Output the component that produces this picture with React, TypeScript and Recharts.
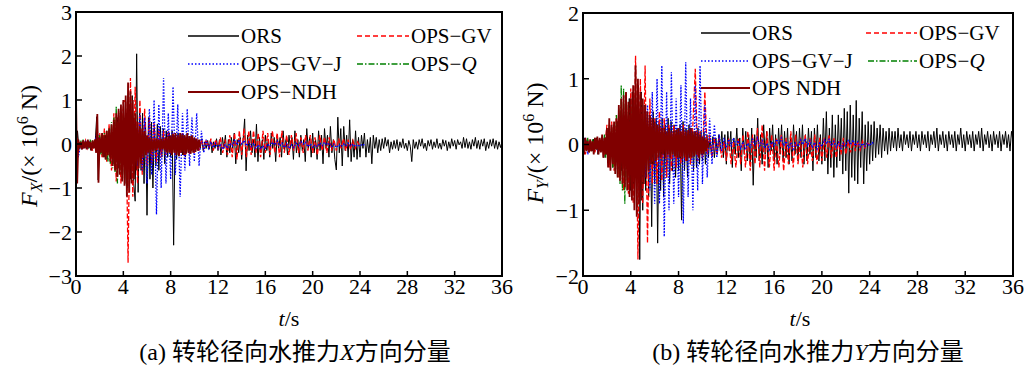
import { LineChart, Line, XAxis, YAxis } from "recharts";

// time axis ticks (s) and force ticks (x10^6 N)
const timeTicks = [0, 4, 8, 12, 16, 20, 24, 28, 32, 36];
const fxTicks = [-3, -2, -1, 0, 1, 2, 3];
const fyTicks = [-2, -1, 0, 1, 2];

// sample spacing (s) of each hand-read series
const orsStep = 0.125;
const gvStep = 0.2;
const gvjStep = 0.2;
const qStep = 0.1;
const ndhStep = 0.1;

// (a) X component, one row per second for ORS
const fxOrs = [
  -0.85, 0.3, -0.1, 0.05, -0.12, 0.02, -0.08, 0.04,
  -0.1, 0.05, -0.14, 0.02, -0.06, 0.05, 0.62, -0.82,
  0.15, -0.2, 0.25, -0.3, 0.2, -0.35, 0.3, -0.28,
  0.4, -0.45, 0.5, -0.4, 0.6, -0.55, 0.7, -0.6,
  0.8, -0.9, 0.7, -1.0, 0.9, -0.8, 1.1, -0.9,
  -1.3, 2.05, -1.1, 0.8, -0.6, 0.7, -0.9, 0.5,
  -1.62, 0.6, -0.8, 0.5, -1.0, 0.4, -0.5, 0.45,
  -0.6, 0.4, -0.3, 0.35, -0.45, 0.3, -0.3, 0.25,
  -0.3, 0.3, -2.3, 0.2, -0.35, 0.25, -0.2, 0.2,
  -0.25, 0.2, -0.3, 0.15, -0.2, 0.18, -0.15, 0.12,
  -0.15, 0.1, -0.12, 0.08, -0.1, 0.12, -0.15, 0.05,
  -0.1, 0.08, -0.12, 0.1, -0.2, 0.05, -0.1, 0.12,
  -0.15, 0.1, -0.25, 0.15, -0.1, 0.2, -0.3, 0.1,
  -0.2, 0.15, -0.1, 0.25, -0.45, 0.1, -0.2, 0.15,
  -0.35, 0.1, 0.57, -0.61, 0.2, -0.15, 0.3, -0.2,
  0.1, -0.3, 0.45, -0.4, 0.15, -0.2, 0.1, -0.35,
  0.2, -0.15, 0.1, -0.3, 0.25, -0.1, 0.15, -0.4,
  0.2, -0.1, 0.15, -0.3, 0.3, -0.15, 0.1, -0.25,
  0.2, -0.1, 0.15, -0.35, 0.3, -0.2, 0.1, -0.3,
  0.2, -0.15, 0.1, -0.4, 0.35, -0.1, 0.15, -0.3,
  0.25, -0.2, 0.1, -0.35, 0.3, -0.15, 0.2, -0.45,
  0.35, -0.1, 0.2, -0.3, 0.4, -0.2, 0.1, -0.35,
  -0.59, 0.61, -0.2, 0.35, -0.5, 0.4, -0.15, 0.2,
  -0.3, 0.55, -0.4, 0.1, -0.3, 0.3, -0.35, 0.15,
  -0.3, 0.2, -0.1, 0.25, -0.3, 0.1, -0.2, 0.15,
  -0.45, 0.2, -0.1, 0.15, -0.2, 0.1, -0.15, 0.12,
  -0.1, 0.15, -0.05, 0.1, -0.2, 0.05, -0.12, 0.08,
  -0.1, 0.1, -0.15, 0.05, -0.08, 0.12, -0.1, 0.02,
  -0.15, 0.08, -0.05, -0.4, 0.1, -0.1, 0.05, -0.12,
  0.1, -0.05, 0.12, -0.1, 0.02, -0.15, 0.08, -0.05,
  0.1, -0.12, 0.05, -0.08, 0.12, -0.1, 0.02, -0.12,
  0.1, -0.05, 0.08, -0.15, 0.05, -0.1, 0.12, -0.05,
  0.08, -0.12, 0.1, -0.02, 0.05, -0.1, 0.15, -0.08,
  0.12, -0.1, 0.05, -0.12, 0.1, -0.05, 0.15, -0.1,
  0.08, -0.12, 0.1, -0.05, 0.12, -0.15, 0.05, -0.1,
  0.1, -0.05, 0.12, -0.1, 0.08, -0.12, 0.05, -0.08,
  0.05,
];
const fxGv = [
  0.3, -0.2, 0.05, -0.12, 0.08, -0.1, 0.05, -0.15, 0.1, -0.2,
  0.25, -0.3, 0.35, -0.4, 0.45, -0.6, 0.7, -0.85, 0.75, -0.9,
  0.95, 1.0, -2.7, 1.5, -1.2, 1.3, -0.9, 1.0, -0.7, 0.8,
  -0.5, 0.6, -0.45, 0.5, -0.4, 0.35, -0.3, 0.3, -0.25, 0.3,
  -0.2, 0.25, -0.25, 0.2, -0.2, 0.25, -0.3, 0.2, -0.25, 0.15,
  -0.2, 0.12, -0.15, 0.1, -0.12, 0.1, -0.1, 0.12, -0.15, 0.1,
  -0.12, 0.15, -0.2, 0.1, -0.25, 0.2, -0.3, 0.25, -0.35, 0.3,
  -0.25, 0.35, -0.3, 0.3, -0.25, 0.3, -0.2, 0.25, -0.3, 0.3,
  -0.2, 0.25, -0.25, 0.3, -0.2, 0.25, -0.3, 0.3, -0.2, 0.2,
  -0.25, 0.2, -0.15, 0.25, -0.2, 0.15, -0.2, 0.2, -0.15, 0.2,
  -0.2, 0.15, -0.25, 0.2, -0.15, 0.15, -0.2, 0.15, -0.15, 0.1,
  -0.15, 0.12, -0.1, 0.12, -0.15, 0.1, -0.12, 0.08, -0.1, 0.05,
  -0.05,
];
const fxGvj = [
  0.2, -0.3, 0.05, -0.1, 0.05, -0.08, 0.05, -0.1, 0.05, 0.3,
  -0.15, 0.1, -0.1, 0.08, -0.12, 0.1, -0.15, 0.12, -0.2, 0.15,
  -0.25, 0.2, -0.3, 0.3, -0.35, 0.5, -0.5, 0.7, -0.6, 0.6,
  -0.9, 0.8, -0.7, 1.0, -1.6, 0.9, -1.0, 1.5, -0.9, 0.7,
  -0.8, 1.3, -0.7, 0.9, -1.2, 0.7, -0.6, 0.8, -0.5, 0.6,
  -0.4, 0.7, -0.5, 0.3, -0.2, 0.1, -0.1, 0.05, -0.08, 0.02,
  -0.1, 0, -0.12, -0.02, -0.1, 0.02, -0.05, 0.08, -0.02, 0.1,
  0, 0.08, -0.04, 0.05, -0.06, 0.02, -0.1, -0.02, -0.12, -0.04,
  -0.1, 0, -0.06, 0.04, -0.02, 0.06, -0.04, 0.02, -0.08, 0,
  -0.1, -0.02, -0.08, 0.02, -0.04, 0.06, 0, 0.04, -0.06, 0,
  -0.08, -0.02, -0.06, 0.02, -0.04, 0.04, -0.02, 0.02, -0.06, 0,
  -0.08, -0.02, -0.06, 0, -0.04, 0.02, -0.05, 0, -0.06, -0.02,
  -0.05, 0, -0.03,
];
const fxQ = [
  0.1, -0.15, 0.05, -0.1, 0.08, -0.05, 0.1, -0.08, 0.05, -0.1,
  0.08, -0.1, 0.1, -0.05, 0.08, -0.1, 0.05, -0.12, 0.1, -0.15,
  0.2, -0.25, 0.2, -0.3, 0.25, -0.35, 0.3, -0.4, 0.35, -0.45,
  0.5, -0.55, 0.6, -0.65, 0.85, -0.9, 0.7, -0.6, 0.75, -0.7,
  0.65, -0.8, 0.6, -0.55, 0.5, -0.6, 0.45, -0.4, 0.5, -0.35,
  0.3, -0.35, 0.25, -0.3, 0.2, -0.2, 0.15, -0.12, 0.1, -0.08,
  0.05,
];
const fxNdh = [
  1.15, -0.9, 0.1, -0.1, 0.05, -0.12, 0.08, -0.1, 0.06, -0.12,
  0.1, -0.08, 0.05, -0.15, 0.08, -0.1, 0.1, -0.2, 0.68, -0.88,
  0.15, -0.2, 0.25, -0.3, 0.2, -0.35, 0.3, -0.25, 0.35, -0.4,
  0.45, -0.5, 0.55, -0.6, 0.7, -0.75, 0.8, -0.7, 0.9, -0.85,
  1.0, -0.95, 1.1, -1.2, 1.4, -1.1, 1.2, -0.9, 1.0, -0.8,
  0.7, -0.6, 0.5, -0.55, 0.4, -0.45, 0.35, -0.3, 0.3, -0.25,
  0.2, -0.2, 0.15, -0.2, 0.12, -0.15, 0.1, -0.15, 0.12, -0.1,
  0.1, -0.15, 0.12, -0.12, 0.1, -0.15, 0.15, -0.2, 0.18, -0.2,
  0.2, -0.25, 0.22, -0.2, 0.25, -0.25, 0.2, -0.28, 0.25, -0.2,
  0.22, -0.25, 0.2, -0.22, 0.25, -0.2, 0.18, -0.22, 0.2, -0.2,
  0.15, -0.18, 0.12, -0.15, 0.1, -0.08,
];

// (b) Y component, one row per second for ORS
const fyOrs = [
  -0.1, 0.1, -0.05, 0.08, -0.12, 0.05, -0.1, 0.08,
  -0.05, 0.1, -0.15, 0.05, -0.1, 0.12, -0.2, 0.1,
  -0.15, 0.25, -0.3, 0.2, -0.35, 0.3, -0.25, 0.35,
  -0.45, 0.5, -0.4, 0.55, -0.6, 0.65, -0.5, 0.7,
  -0.7, 0.8, -0.6, 0.75, -0.9, 0.9, -1.75, 0.8,
  -1.0, 0.6, -0.7, 0.5, -0.8, 0.4, -1.25, 0.5,
  -0.6, 0.4, -1.5, 0.35, -0.7, 0.4, -0.8, 0.3,
  -0.5, 0.4, -0.6, 0.35, -0.4, 0.3, -0.5, 0.25,
  -0.4, 0.3, -1.15, 0.35, -0.4, 0.25, -0.5, 0.3,
  -0.3, 0.25, -0.4, 0.2, -0.35, 0.25, -0.3, 0.2,
  -0.25, 0.2, -0.3, 0.15, -0.2, 0.1, -0.15, 0.12,
  -0.2, 0.1, -0.15, 0.15, -0.1, 0.2, -0.2, 0.15,
  -0.3, 0.2, -0.1, 0.2, -0.35, 0.1, -0.15, 0.25,
  -0.2, 0.1, -0.4, 0.25, -0.15, 0.2, -0.25, 0.15,
  -0.3, 0.25, -0.62, 0.15, -0.2, 0.4, -0.25, 0.15,
  -0.3, 0.3, -0.15, 0.2, -0.35, 0.25, -0.1, 0.3,
  -0.25, 0.15, -0.3, 0.25, -0.15, 0.3, -0.25, 0.2,
  -0.2, 0.25, -0.3, 0.15, -0.25, 0.3, -0.15, 0.2,
  -0.25, 0.25, -0.2, 0.3, -0.3, 0.15, -0.25, 0.25,
  -0.15, 0.2, -0.4, 0.25, -0.2, 0.3, -0.25, 0.15,
  -0.3, 0.4, -0.25, 0.5, -0.45, 0.25, -0.35, 0.45,
  -0.5, 0.3, -0.35, 0.45, -0.25, 0.4, -0.45, 0.55,
  -0.4, 0.5, -0.74, 0.6, -0.5, 0.45, -0.55, 0.67,
  -0.6, 0.4, -0.35, 0.5, -0.6, 0.3, -0.4, 0.35,
  -0.3, 0.3, -0.25, 0.35, -0.2, 0.25, -0.15, 0.3,
  -0.2, 0.25, -0.1, 0.2, -0.15, 0.25, -0.1, 0.2,
  -0.05, 0.2, -0.1, 0.25, -0.05, 0.15, -0.1, 0.2,
  0, 0.15, -0.05, 0.2, -0.1, 0.15, 0, 0.2,
  -0.05, 0.15, -0.1, 0.2, 0, 0.15, -0.05, 0.2,
  -0.1, 0.15, 0, 0.2, -0.05, 0.25, -0.1, 0.15,
  0, 0.2, -0.05, 0.15, -0.1, 0.2, 0, 0.15,
  -0.05, 0.2, -0.1, 0.15, 0, 0.25, -0.05, 0.15,
  -0.1, 0.2, 0, 0.15, -0.05, 0.2, -0.1, 0.15,
  0, 0.2, -0.05, 0.25, -0.1, 0.15, 0, 0.2,
  -0.05, 0.15, -0.1, 0.2, 0, 0.15, -0.05, 0.2,
  -0.1, 0.15, 0, 0.2, -0.05, 0.15, -0.1, 0.2,
  0.05,
];
const fyGv = [
  0.1, -0.15, 0.08, -0.1, 0.05, -0.12, 0.08, -0.1, 0.1, -0.15,
  0.3, -0.35, 0.35, -0.4, 0.45, -0.5, 0.6, -0.7, 0.8, -0.75,
  0.85, -0.9, 1.35, -1.75, 1.0, -0.9, 1.2, -1.5, 0.7, -0.6,
  0.4, -0.6, 0.5, -0.55, 0.4, -0.5, 0.3, -0.4, 0.3, -0.35,
  0.25, -0.3, 0.3, -0.25, 0.2, -0.3, 0.3, 1.15, -0.25, 0.2,
  -0.2, 0.8, -0.15, 0.15, -0.2, 0.1, -0.15, 0.1, -0.2, 0.05,
  -0.25, 0.1, -0.3, 0.05, -0.35, 0.1, -0.3, 0.15, -0.35, 0.2,
  -0.4, 0.15, -0.3, 0.25, -0.35, 0.3, -0.4, 0.2, -0.35, 0.15,
  -0.4, 0.1, -0.35, 0.15, -0.4, 0.1, -0.3, 0.2, -0.35, 0.15,
  -0.3, 0.1, -0.35, 0.15, -0.3, 0.1, -0.25, 0.15, -0.3, 0.1,
  -0.25, 0.1, -0.2, 0.15, -0.2, 0.1, -0.2, 0.05, -0.15, 0.1,
  -0.15, 0.05, -0.12, 0.05, -0.1, 0.05, -0.08, 0.05, -0.05, 0.02,
  0,
];
const fyGvj = [
  -0.1, 0.1, -0.15, 0.05, -0.1, 0.05, -0.08, 0.05, -0.1, 0.08,
  -0.1, 0.1, -0.12, 0.1, -0.15, 0.12, -0.15, 0.1, -0.2, 0.15,
  -0.2, 0.2, -0.25, 0.25, -0.3, 0.35, -0.5, 0.6, -0.7, 0.8,
  -0.9, 1.0, -0.9, 1.2, -1.4, 0.8, -1.0, 1.1, -0.9, 0.7,
  -0.8, 0.9, -1.2, 1.25, -0.8, 0.7, -1.0, 0.9, -0.7, 1.2,
  -0.6, 0.6, -0.5, 0.4, -0.3, 0.3, -0.2, 0.15, -0.1, 0.1,
  -0.05, 0.08, -0.02, 0.1, 0, 0.06, -0.06, 0.04, -0.08, 0.02,
  -0.04, 0.08, 0, 0.1, -0.02, 0.06, -0.06, 0.02, -0.08, 0.04,
  -0.02, 0.08, 0.02, 0.1, -0.02, 0.05, -0.05, 0.03, -0.07, 0.02,
  -0.03, 0.07, 0, 0.09, -0.02, 0.06, -0.05, 0.03, -0.07, 0.02,
  -0.03, 0.07, 0.01, 0.08, -0.02, 0.05, -0.04, 0.03, -0.06, 0.02,
  -0.02, 0.06, 0, 0.07, -0.02, 0.04, -0.04, 0.02, -0.03, 0.02,
  -0.02, 0.03, 0,
];
const fyQ = [
  0.05, -0.1, 0.08, -0.05, 0.1, -0.08, 0.05, -0.1, 0.08, -0.05,
  0.1, -0.08, 0.05, -0.1, 0.08, -0.12, 0.1, -0.1, 0.15, -0.2,
  0.2, -0.25, 0.3, -0.3, 0.25, -0.35, 0.3, -0.4, 0.45, -0.5,
  0.55, -0.6, 0.9, -0.7, 0.85, -0.9, 0.6, -0.55, 0.6, -0.65,
  0.55, -0.6, 0.5, -0.55, 0.45, -0.5, 0.4, -0.45, 0.5, -0.6,
  0.4, -0.45, 0.3, -0.3, 0.2, -0.25, 0.15, -0.12, 0.1, -0.08,
  0.05,
];
const fyNdh = [
  0.05, -0.15, 0.1, -0.1, 0.05, -0.12, 0.08, -0.1, 0.05, -0.15,
  0.1, -0.08, 0.12, -0.15, 0.1, -0.12, 0.15, -0.2, 0.1, -0.15,
  0.25, -0.35, 0.4, -0.4, 0.3, -0.3, 0.35, -0.45, 0.4, -0.5,
  0.6, -0.55, 0.7, -0.6, 0.75, -0.65, 0.8, -0.7, 0.65, -0.8,
  0.7, -0.85, 0.9, -1.0, 1.2, -1.1, 1.0, -0.9, 0.8, -0.85,
  0.7, -0.6, 0.6, -0.5, 0.5, -0.4, 0.45, -0.3, 0.4, -0.3,
  0.35, -0.25, 0.3, -0.2, 0.3, -0.2, 0.25, -0.15, 0.25, -0.2,
  0.2, -0.15, 0.25, -0.2, 0.2, -0.15, 0.2, -0.18, 0.22, -0.2,
  0.25, -0.2, 0.2, -0.22, 0.25, -0.2, 0.2, -0.25, 0.22, -0.2,
  0.25, -0.2, 0.2, -0.18, 0.2, -0.15, 0.18, -0.2, 0.15, -0.15,
  0.12, -0.15, 0.1, -0.1, 0.08, -0.05,
];

const FONT = '"Liberation Serif", "Times New Roman", serif';
const CJK = '"Liberation Serif", "Noto Sans CJK SC", serif';

const toPoints = (vals: number[], step: number) =>
  vals.map((v, i) => ({ t: Math.round(i * step * 1000) / 1000, v }));

const minus = (v: number) => (v < 0 ? `\u2212${-v}` : `${v}`);

type SeriesSet = { ors: number[]; gv: number[]; gvj: number[]; q: number[]; ndh: number[] };

function ForcePanel(props: {
  left: number;
  width: number;
  yWidth: number;
  mTop: number;
  mRight: number;
  ticks: number[];
  s: SeriesSet;
}) {
  const { left, width, yWidth, mTop, mRight, ticks, s } = props;
  const tickStyle = { fill: "#000", fontSize: 22, fontFamily: FONT };
  const plotLeft = left + yWidth;
  const plotRight = left + width - mRight;
  return (
    <>
      <div style={{ position: "absolute", left, top: 0 }}>
        <LineChart width={width} height={300} margin={{ top: mTop, right: mRight, bottom: 0, left: 0 }}>
          <XAxis
            dataKey="t"
            type="number"
            domain={[0, 36]}
            ticks={timeTicks}
            height={24}
            tick={tickStyle}
            tickSize={-5}
            tickMargin={7}
            tickLine={{ stroke: "#000", strokeWidth: 1.5 }}
            axisLine={false}
            interval={0}
          />
          <YAxis
            type="number"
            domain={[ticks[0], ticks[ticks.length - 1]]}
            ticks={ticks}
            width={yWidth}
            tick={tickStyle}
            tickFormatter={minus}
            tickSize={-6}
            tickMargin={10}
            tickLine={{ stroke: "#000", strokeWidth: 1.5 }}
            axisLine={false}
            interval={0}
            allowDataOverflow
          />
          <Line data={toPoints(s.ors, orsStep)} dataKey="v" stroke="#000000" strokeWidth={1} dot={false} isAnimationActive={false} />
          <Line data={toPoints(s.gv, gvStep)} dataKey="v" stroke="#ff0000" strokeWidth={1.3} strokeDasharray="5 2" dot={false} isAnimationActive={false} />
          <Line data={toPoints(s.gvj, gvjStep)} dataKey="v" stroke="#0000ff" strokeWidth={1.3} strokeDasharray="1.5 1.5" dot={false} isAnimationActive={false} />
          <Line data={toPoints(s.q, qStep)} dataKey="v" stroke="#008000" strokeWidth={1.3} strokeDasharray="6 2 1.5 2" dot={false} isAnimationActive={false} />
          <Line data={toPoints(s.ndh, ndhStep)} dataKey="v" stroke="#800000" strokeWidth={1.8} dot={false} isAnimationActive={false} />
        </LineChart>
      </div>
      {/* plot frame */}
      <div
        style={{
          position: "absolute",
          left: plotLeft - 1,
          top: mTop - 1,
          width: plotRight - plotLeft + 2,
          height: 276 - mTop + 2,
          border: "2px solid #000",
          boxSizing: "border-box",
          pointerEvents: "none",
        }}
      />
    </>
  );
}

function LegendItem(props: { x1: number; x2: number; y: number; color: string; dash?: string; w?: number; children: any }) {
  const { x1, x2, y, color, dash, w, children } = props;
  return (
    <g>
      <line x1={x1} x2={x2} y1={y} y2={y} stroke={color} strokeWidth={w ?? 1.3} strokeDasharray={dash} />
      <text x={x2 + 2} y={y} dy="0.35em" fontSize={21} fontFamily={FONT} fill="#000">
        {children}
      </text>
    </g>
  );
}

function Legends() {
  return (
    <svg width={1024} height={367} style={{ position: "absolute", left: 0, top: 0, pointerEvents: "none" }}>
      <LegendItem x1={188} x2={239} y={36} color="#000">ORS</LegendItem>
      <LegendItem x1={188} x2={239} y={64} color="#0000ff" dash="1.5 2">OPS−GV−J</LegendItem>
      <LegendItem x1={188} x2={239} y={92} color="#800000" w={2}>OPS−NDH</LegendItem>
      <LegendItem x1={357} x2={409} y={36} color="#ff0000" dash="5 3">OPS−GV</LegendItem>
      <LegendItem x1={357} x2={409} y={64} color="#008000" dash="6 2 1.5 2">
        OPS−<tspan fontStyle="italic">Q</tspan>
      </LegendItem>

      <LegendItem x1={701} x2={750} y={33} color="#000">ORS</LegendItem>
      <LegendItem x1={701} x2={750} y={61} color="#0000ff" dash="1.5 2">OPS−GV−J</LegendItem>
      <LegendItem x1={701} x2={750} y={88} color="#800000" w={2}>OPS NDH</LegendItem>
      <LegendItem x1={866} x2={917} y={33} color="#ff0000" dash="5 3">OPS−GV</LegendItem>
      <LegendItem x1={868} x2={917} y={61} color="#008000" dash="6 2 1.5 2">
        OPS−<tspan fontStyle="italic">Q</tspan>
      </LegendItem>
    </svg>
  );
}

function YLabel(props: { x: number; y: number; sub: string }) {
  return (
    <div
      style={{
        position: "absolute",
        left: props.x,
        top: props.y,
        transform: "translate(-50%, -50%) rotate(-90deg)",
        whiteSpace: "nowrap",
        fontFamily: FONT,
        fontSize: 24,
        lineHeight: 1,
      }}
    >
      <i>F</i>
      <sub style={{ fontSize: 16 }}>
        <i>{props.sub}</i>
      </sub>
      /(× 10<sup style={{ fontSize: 16 }}>6</sup> N)
    </div>
  );
}

function Centered(props: { x: number; y: number; size: number; family: string; children: any }) {
  return (
    <div
      style={{
        position: "absolute",
        left: props.x,
        top: props.y,
        transform: "translate(-50%, -50%)",
        whiteSpace: "nowrap",
        fontFamily: props.family,
        fontSize: props.size,
        lineHeight: 1,
      }}
    >
      {props.children}
    </div>
  );
}

export default function App() {
  const fx = { ors: fxOrs, gv: fxGv, gvj: fxGvj, q: fxQ, ndh: fxNdh };
  const fy = { ors: fyOrs, gv: fyGv, gvj: fyGvj, q: fyQ, ndh: fyNdh };
  return (
    <div style={{ position: "absolute", left: 0, top: 0, width: 1024, height: 367, background: "#fff", overflow: "hidden" }}>
      <ForcePanel left={0} width={520} yWidth={76} mTop={12} mRight={18} ticks={fxTicks} s={fx} />
      <ForcePanel left={510} width={514} yWidth={73} mTop={13} mRight={11} ticks={fyTicks} s={fy} />
      <Legends />
      <YLabel x={30} y={146} sub="X" />
      <YLabel x={536} y={143} sub="Y" />
      <Centered x={289} y={319} size={22} family={FONT}>
        <i>t</i>/s
      </Centered>
      <Centered x={800} y={319} size={22} family={FONT}>
        <i>t</i>/s
      </Centered>
      <Centered x={295} y={352} size={24} family={CJK}>
        (a) 转轮径向水推力<i>X</i>方向分量
      </Centered>
      <Centered x={808} y={352} size={24} family={CJK}>
        (b) 转轮径向水推力<i>Y</i>方向分量
      </Centered>
    </div>
  );
}
